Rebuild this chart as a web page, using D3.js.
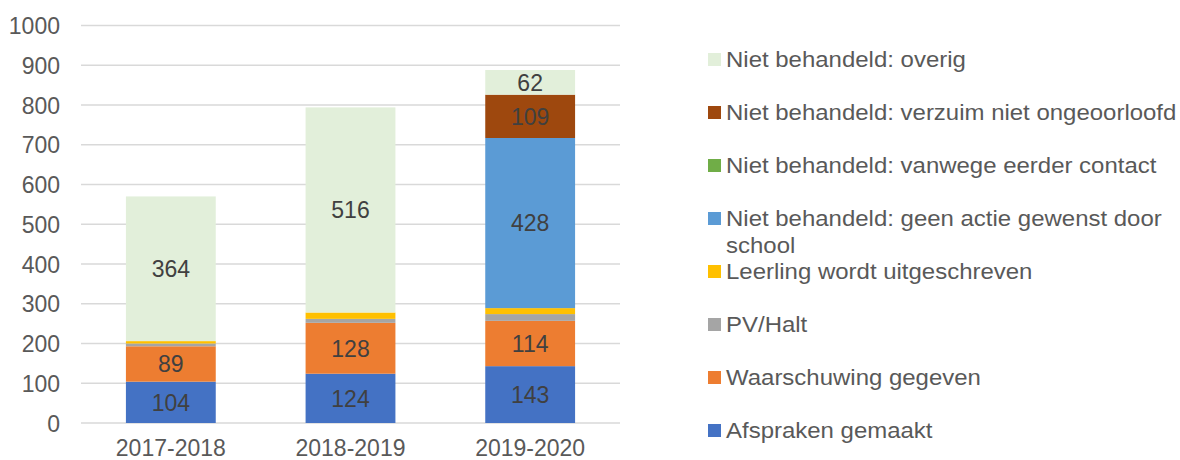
<!DOCTYPE html>
<html><head><meta charset="utf-8">
<script src="https://cdn.jsdelivr.net/npm/d3@7"></script>
<style>
body{margin:0;background:#fff;}
svg{display:block;font-family:"Liberation Sans",Arial,sans-serif;}
</style></head>
<body><svg id="chart" width="1180" height="460"></svg>
<script>
const categories = ["2017-2018", "2018-2019", "2019-2020"];
const seriesNames = [
  "Afspraken gemaakt",
  "Waarschuwing gegeven",
  "PV/Halt",
  "Leerling wordt uitgeschreven",
  "Niet behandeld: geen actie gewenst door school",
  "Niet behandeld: vanwege eerder contact",
  "Niet behandeld: verzuim niet ongeoorloofd",
  "Niet behandeld: overig"
];
const afspraken = [104, 124, 143];
const waarschuwing = [89, 128, 114];
const pvHalt = [7, 10, 17];
const uitgeschreven = [6, 16, 15];
const geenActie = [0, 0, 428];
const eerderContact = [0, 0, 0];
const verzuim = [0, 0, 109];
const overig = [364, 516, 62];
const labelled = [true, true, false, false, true, true, true, true];
const colors = ["#4472C4", "#ED7D31", "#A5A5A5", "#FFC000", "#5B9BD5", "#70AD47", "#9E480E", "#E2EFDA"];
const yTicks = [0, 100, 200, 300, 400, 500, 600, 700, 800, 900, 1000];
const legendLines = [
  ["Niet behandeld: overig"],
  ["Niet behandeld: verzuim niet ongeoorloofd"],
  ["Niet behandeld: vanwege eerder contact"],
  ["Niet behandeld: geen actie gewenst door", "school"],
  ["Leerling wordt uitgeschreven"],
  ["PV/Halt"],
  ["Waarschuwing gegeven"],
  ["Afspraken gemaakt"]
];

const allSeries = [afspraken, waarschuwing, pvHalt, uitgeschreven, geenActie, eerderContact, verzuim, overig];
const rows = categories.map((c, i) => {
  const r = {cat: c};
  seriesNames.forEach((s, j) => r[s] = allSeries[j][i]);
  return r;
});
const stacked = d3.stack().keys(seriesNames)(rows);

const svg = d3.select("#chart");
const x = d3.scaleBand().domain(categories).range([81, 620]).paddingInner(0.5).paddingOuter(0.25);
const y = d3.scaleLinear().domain([0, 1000]).range([423, 25.5]);

// gridlines
svg.append("g").selectAll("line").data(yTicks).join("line")
  .attr("x1", 81).attr("x2", 620)
  .attr("y1", d => y(d)).attr("y2", d => y(d))
  .attr("stroke", "#d9d9d9").attr("stroke-width", 1.4);

// y axis labels
const yAxis = d3.axisLeft(y).tickValues(yTicks).tickFormat(d3.format("d")).tickSize(0).tickPadding(0);
const ya = svg.append("g").attr("transform", "translate(60,0)").call(yAxis);
ya.select(".domain").remove();
ya.selectAll("text").attr("font-size", 23).attr("fill", "#595959")
  .attr("font-family", "'Liberation Sans', Arial, sans-serif").attr("dy", "0.35em");

// x axis labels
const xAxis = d3.axisBottom(x).tickSize(0).tickPadding(0);
const xa = svg.append("g").attr("transform", "translate(0,440)").call(xAxis);
xa.select(".domain").remove();
xa.selectAll("text").attr("font-size", 23).attr("fill", "#595959")
  .attr("font-family", "'Liberation Sans', Arial, sans-serif").attr("dy", "0.71em");

// bars
const layers = svg.append("g").selectAll("g").data(stacked).join("g")
  .attr("fill", (d, i) => colors[i]);
layers.selectAll("rect").data(d => d.map(v => ({v, cat: v.data.cat}))).join("rect")
  .attr("x", d => x(d.cat)).attr("width", x.bandwidth())
  .attr("y", d => y(d.v[1])).attr("height", d => y(d.v[0]) - y(d.v[1]));

// data labels
stacked.forEach((layer, i) => {
  if (!labelled[i]) return;
  svg.append("g").selectAll("text").data(layer.filter(v => v[1] - v[0] > 0)).join("text")
    .attr("x", d => x(d.data.cat) + x.bandwidth() / 2)
    .attr("y", d => (y(d[0]) + y(d[1])) / 2)
    .attr("dy", "0.36em")
    .attr("text-anchor", "middle")
    .attr("font-size", 23).attr("fill", "#404040")
    .text(d => d[1] - d[0]);
});

// legend
const legendColors = colors.slice().reverse();
const lg = svg.append("g").selectAll("g").data(legendLines).join("g")
  .attr("transform", (d, i) => `translate(708,${53 + i * 53})`);
lg.append("rect").attr("width", 13).attr("height", 13).attr("fill", (d, i) => legendColors[i]);
lg.each(function(lines) {
  const g = d3.select(this);
  lines.forEach((t, k) => {
    g.append("text")
      .attr("transform", `translate(18,${14 + k * 27}) scale(1.09,1)`)
      .attr("font-size", 22).attr("fill", "#595959").text(t);
  });
});
</script>
</body></html>
